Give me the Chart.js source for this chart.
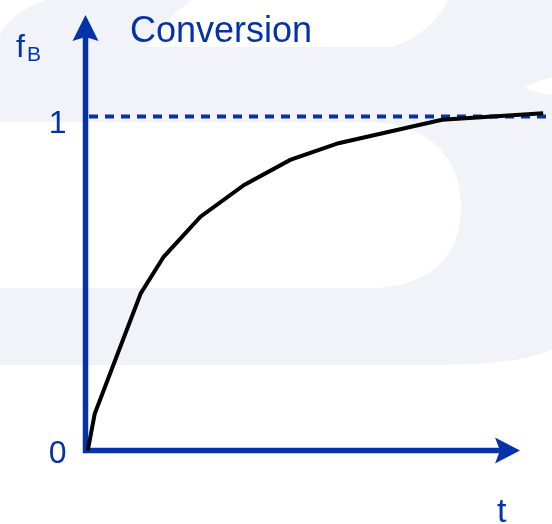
<!DOCTYPE html>
<html>
<head>
<meta charset="utf-8">
<script src="https://cdn.jsdelivr.net/npm/chart.js@4"></script>
<style>
  html, body { margin: 0; padding: 0; background: #fff; }
</style>
</head>
<body>
<canvas id="chart" width="552" height="524"></canvas>
<script>
// curve: time (arbitrary units) vs conversion fB
const timeValues = [0.05, 0.2, 1.2, 1.7, 2.5, 3.45, 4.45, 5.5, 7.75, 9.95]
const conversionValues = [0, 0.11, 0.47, 0.58, 0.70, 0.795, 0.87, 0.92, 0.99, 1.01]
const yTickValues = [0, 1]
const yTickLabels = ["0", "1"]
const asymptote = 1
const title = "Conversion"
const yTitle = "f"
const yTitleSub = "B"
const xTitle = "t"

const blue = "#0433a8"
const shade = "#f2f3f8"
const font = "'Liberation Sans', Arial, Helvetica, sans-serif"

// faint watermark shapes behind the chart
const backdrop = {
    id: "backdrop",
    beforeDraw(chart) {
        const ctx = chart.ctx
        ctx.save()
        ctx.fillStyle = "#fff"
        ctx.fillRect(0, 0, chart.width, chart.height)

        ctx.fillStyle = shade
        ctx.beginPath()
        ctx.moveTo(0, 0)
        ctx.lineTo(552, 0)
        ctx.lineTo(552, 350)
        ctx.quadraticCurveTo(515, 365, 440, 365)
        ctx.lineTo(0, 365)
        ctx.closePath()
        ctx.fill()

        ctx.fillStyle = "#fff"
        // the "D" hole
        ctx.beginPath()
        ctx.moveTo(0, 122)
        ctx.lineTo(372, 122)
        ctx.bezierCurveTo(432, 124, 461, 160, 461, 207)
        ctx.bezierCurveTo(461, 258, 428, 288, 368, 288)
        ctx.lineTo(0, 288)
        ctx.closePath()
        ctx.fill()
        // top hole
        ctx.beginPath()
        ctx.moveTo(192, 0)
        ctx.bezierCurveTo(172, 14, 156, 30, 148, 47)
        ctx.lineTo(392, 47)
        ctx.bezierCurveTo(420, 38, 440, 18, 448, 0)
        ctx.closePath()
        ctx.fill()
        // top-left corner
        ctx.beginPath()
        ctx.moveTo(0, 0)
        ctx.lineTo(46, 0)
        ctx.quadraticCurveTo(12, 12, 0, 34)
        ctx.closePath()
        ctx.fill()
        // small wedge on the right
        ctx.beginPath()
        ctx.moveTo(552, 77)
        ctx.quadraticCurveTo(535, 82, 524, 88)
        ctx.quadraticCurveTo(535, 92, 552, 95)
        ctx.closePath()
        ctx.fill()
        ctx.restore()
    }
}

// arrowed axes, dashed asymptote and labels
const axes = {
    id: "axes",
    beforeDatasetsDraw(chart) {
        const { ctx, scales: { x, y } } = chart
        const x0 = x.getPixelForValue(0)
        const y0 = y.getPixelForValue(0)
        const y1 = y.getPixelForValue(asymptote)
        const yTip = y.getPixelForValue(1.304)
        const xTip = x.getPixelForValue(9.446)

        ctx.save()
        ctx.strokeStyle = blue
        ctx.fillStyle = blue

        ctx.lineWidth = 4
        ctx.setLineDash([9, 7])
        ctx.beginPath()
        ctx.moveTo(x0 + 3.5, y1)
        ctx.lineTo(x.getPixelForValue(10.05), y1)
        ctx.stroke()
        ctx.setLineDash([])

        ctx.lineWidth = 5.5
        ctx.beginPath()
        ctx.moveTo(x0, y0 + 2.5)
        ctx.lineTo(x0, yTip + 20)
        ctx.stroke()
        ctx.beginPath()
        ctx.moveTo(x0, yTip)
        ctx.lineTo(x0 + 13, yTip + 26)
        ctx.lineTo(x0, yTip + 22)
        ctx.lineTo(x0 - 13, yTip + 26)
        ctx.closePath()
        ctx.fill()

        ctx.beginPath()
        ctx.moveTo(x0 - 2.5, y0)
        ctx.lineTo(xTip - 18, y0)
        ctx.stroke()
        ctx.beginPath()
        ctx.moveTo(xTip, y0)
        ctx.lineTo(xTip - 25, y0 - 13)
        ctx.lineTo(xTip - 20, y0)
        ctx.lineTo(xTip - 25, y0 + 13)
        ctx.closePath()
        ctx.fill()

        ctx.textBaseline = "alphabetic"
        ctx.textAlign = "right"
        ctx.font = `32px ${font}`
        yTickValues.forEach((v, i) => {
            const drop = v === 0 ? 12.5 : 16.5
            ctx.fillText(yTickLabels[i], x0 - 19, y.getPixelForValue(v) + drop)
        })

        ctx.textAlign = "left"
        ctx.font = `36px ${font}`
        ctx.fillText(title, 130, 42)
        ctx.font = `32px ${font}`
        ctx.fillText(yTitle, 16, 57)
        ctx.font = `21px ${font}`
        ctx.fillText(yTitleSub, 27, 61)
        ctx.font = `34px ${font}`
        ctx.fillText(xTitle, 497, 522)
        ctx.restore()
    }
}

new Chart(document.getElementById("chart"), {
    type: "line",
    data: {
        datasets: [{
            data: timeValues.map((t, i) => ({ x: t, y: conversionValues[i] })),
            borderColor: "#000",
            borderWidth: 4,
            pointRadius: 0,
            tension: 0,
            fill: false,
            clip: false
        }]
    },
    options: {
        responsive: false,
        animation: false,
        layout: {
            autoPadding: false,
            padding: { left: 85.5, right: 6.5, top: 49.7, bottom: 73.5 }
        },
        plugins: {
            legend: { display: false },
            tooltip: { enabled: false }
        },
        scales: {
            x: { type: "linear", min: 0, max: 10, display: false },
            y: { type: "linear", min: 0, max: 1.2, display: false }
        }
    },
    plugins: [backdrop, axes]
})
</script>
</body>
</html>
